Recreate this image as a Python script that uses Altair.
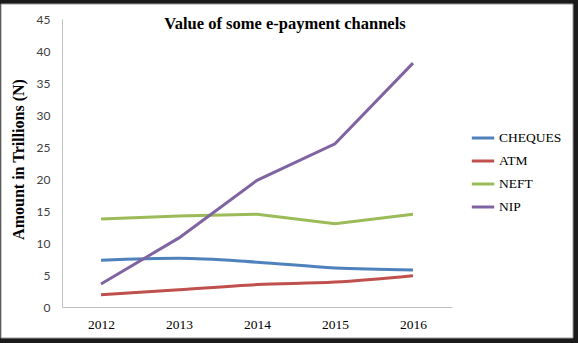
import altair as alt
import pandas as pd

years = ["2012", "2013", "2014", "2015", "2016"]
series_names = ["CHEQUES", "ATM", "NEFT", "NIP"]
cheques = [7.3, 7.6, 7.0, 6.1, 5.8]
atm = [1.9, 2.7, 3.5, 3.9, 4.9]
neft = [13.75, 14.2, 14.5, 13.0, 14.5]
nip = [3.6, 10.8, 19.8, 25.5, 38.1]
colors = ["#4F81BD", "#C0504D", "#9BBB59", "#8064A2"]

rows = []
for name, vals in zip(series_names, [cheques, atm, neft, nip]):
    for y, v in zip(years, vals):
        rows.append({"Year": y, "Channel": name, "Value": v})
df = pd.DataFrame(rows)

x_enc = alt.X("Year:O", scale=alt.Scale(type="point", domain=years, padding=0.5),
              axis=alt.Axis(title=None, labelAngle=0, ticks=False, domainColor="#BFBFBF",
                            labelFont="Liberation Serif", labelFontSize=13.5, labelColor="#000000",
                            labelPadding=10, zindex=1))
y_enc = alt.Y("Value:Q", scale=alt.Scale(domain=[0, 45]),
              axis=alt.Axis(title="Amount in Trillions (N)", values=list(range(0, 50, 5)), grid=False,
                            ticks=False, domainColor="#BFBFBF", labelFont="Lato", labelFontSize=12,
                            labelColor="#404040", labelPadding=12, zindex=1,
                            titleFont="Liberation Serif", titleFontSize=16, titleFontWeight="bold",
                            titleColor="#000000", titleX=-44, titleY=140, titleAngle=270,
                            titleAlign="center", titleBaseline="middle"))
color_enc = alt.Color("Channel:N", scale=alt.Scale(domain=series_names, range=colors),
                      legend=alt.Legend(title=None, orient="none", legendX=408, legendY=106,
                                        symbolType="stroke", symbolStrokeWidth=3, symbolSize=500,
                                        labelFont="Liberation Serif", labelFontSize=13.5,
                                        labelColor="#000000", rowPadding=3, labelOffset=3))

bg = alt.Chart(pd.DataFrame({"a": [0]})).mark_rect(fill="white", stroke="#9a9a9a", strokeWidth=1).encode(
    x=alt.value(-61), x2=alt.value(511), y=alt.value(-15), y2=alt.value(319))

smooth = alt.Chart(df).transform_filter(
    alt.FieldOneOfPredicate(field="Channel", oneOf=["CHEQUES", "ATM"])
).mark_line(strokeWidth=3, interpolate="monotone").encode(x=x_enc, y=y_enc, color=color_enc)

straight = alt.Chart(df).transform_filter(
    alt.FieldOneOfPredicate(field="Channel", oneOf=["NEFT", "NIP"])
).mark_line(strokeWidth=3).encode(x=x_enc, y=y_enc, color=color_enc)

chart = alt.layer(bg, smooth, straight).properties(
    width=390, height=288,
    title=alt.TitleParams("Value of some e-payment channels", font="Liberation Serif", fontSize=16.5,
                          fontWeight="bold", color="#000000", anchor="middle", dx=28, offset=-29),
    autosize=alt.AutoSizeParams(type="none"),
    padding={"left": 62, "top": 19, "right": 126, "bottom": 36},
).configure(background="#1b1b1b").configure_view(stroke=None)

chart.save("out.html", embed_options={"renderer": "svg", "actions": False})
